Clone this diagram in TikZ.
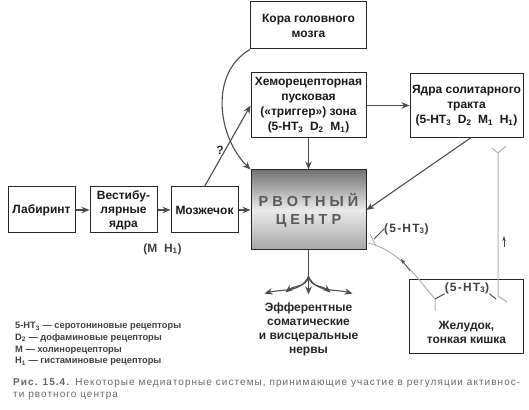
\documentclass[tikz,border=0pt]{standalone}
\usepackage{fontspec}
\setmainfont{Liberation Sans}
\usetikzlibrary{positioning, arrows.meta}

\tikzset{
	vomitpicture/.style = {
		x = 1pt,
		y = 1pt,
		node distance = 12pt,
		arrow/.style = {
			draw = black!70,
			line width = 1.1pt,
			-{Stealth[length = 8pt, width = 6.5pt]},
		},
		thinarrow/.style = {
			draw = black!70,
			line width = 0.7pt,
			-{Stealth[length = 5pt, width = 3.5pt]},
		},
		nerve/.style = {
			draw = black!30,
			line width = 1pt,
		},
		synapse/.style = {
			draw = black!70,
			line width = 1pt,
		}
	},
	block/.style = {
		rectangle,
		draw = black!85,
		fill = white,
		line width = 1pt,
		align = center,
		inner sep = 2pt,
		text = black!90,
		font = \bfseries\fontsize{12}{15}\selectfont
	},
	rowblock/.style = {
		block,
		minimum width = 67pt,
		minimum height = 46pt,
		font = \bfseries\fontsize{12}{14}\selectfont
	},
	vcblock/.style = {
		block,
		minimum width = 115pt,
		minimum height = 80pt,
		top color = black!55,
		bottom color = black!35,
		middle color = black!8,
		text = black!65,
		font = \bfseries\fontsize{14.5}{18}\selectfont
	},
	note/.style = {
		inner sep = 0pt,
		align = center,
		text = black!85,
		font = \bfseries\fontsize{12}{14}\selectfont
	},
	receptor/.style = {
		note,
		text = black!75,
		font = \bfseries\fontsize{12}{13}\selectfont\addfontfeature{LetterSpace = 10}
	},
	legend/.style = {
		inner sep = 0pt,
		align = left,
		text = black!75,
		font = \bfseries\fontsize{9.3}{11.8}\selectfont
	},
	caption/.style = {
		inner sep = 0pt,
		align = left,
		text = black!60,
		font = \fontsize{10}{12}\selectfont\addfontfeature{LetterSpace = 10.6}
	}
}

\begin{document}
\begin{tikzpicture}[vomitpicture]
	\useasboundingbox (0, 0) rectangle (529, 409);

	\node[rowblock] (lab) at (41.5, 199) {Лабиринт};
	\node[rowblock, right = 14pt of lab] (vest) {Вестибу-\\лярные\\ядра};
	\node[rowblock, right = 13pt of vest] (cereb) {Мозжечок};
	\node[vcblock, right = 12pt of cereb] (vc) {Р В О Т Н Ы Й\\Ц Е Н Т Р};

	\node[block, minimum width = 115pt, minimum height = 65pt, above = 31pt of vc] (ctz) {Хеморецепторная\\пусковая\\(«триггер») зона\\(5-HT\textsubscript{3}~ D\textsubscript{2}~ M\textsubscript{1})};
	\node[block, minimum width = 116pt, minimum height = 47pt, above = 23pt of ctz] (cortex) {Кора головного\\мозга};
	\node[block, minimum width = 113pt, minimum height = 64pt, right = 43pt of ctz] (nts) {Ядра солитарного\\тракта\\(5-HT\textsubscript{3}~ D\textsubscript{2}~ M\textsubscript{1}~ H\textsubscript{1})};
	\node[block, minimum width = 114pt, minimum height = 74pt, below = 141pt of nts] (gut) {};
	\node[note, anchor = south] (gutname) at ([yshift = 10pt] gut.south) {Желудок,\\тонкая кишка};

	\node[note, text = black!75] (mh) at (162.5, 160) {(M~ H\textsubscript{1})};

	\coordinate[below = 26pt of vc] (fork);
	\coordinate[below left = 17pt and 44pt of fork] (eff1);
	\coordinate[below left = 16pt and 23pt of fork] (eff2);
	\coordinate[below = 18pt of fork] (eff3);
	\coordinate[below right = 16pt and 22pt of fork] (eff4);
	\coordinate[below right = 17pt and 44pt of fork] (eff5);
	\node[note, below = 8pt of eff3] (efferent) {Эфферентные\\соматические\\и висцеральные\\нервы};

	\begin{scope}[every path/.style = arrow]
		\path (lab) to (vest);
		\path (vest) to (cereb);
		\path (cereb) to (vc);
		\path (cereb.north) to node[pos = 0.45, left = 1pt, note] {?} (ctz.west);
		\path (cortex.south west) to[out = 210, in = 135] (vc.north west);
		\path (ctz) to (vc);
		\path (ctz) to (nts);
		\path ([xshift = 4pt] nts.south) to (vc.east);

		\path (fork) to[out = 245, in = 15] (eff1);
		\path (fork) to[out = 260, in = 40] (eff2);
		\path (fork) to (eff3);
		\path (fork) to[out = 280, in = 140] (eff4);
		\path (fork) to[out = 295, in = 165] (eff5);
	\end{scope}
	\draw[draw = black!70, line width = 1.1pt] (vc.south) -- (fork);

	% nerves from the gut
	\draw[nerve] (435, 98) -- (435, 110) .. controls (420, 127) and (400, 159) .. (368, 166);
	\draw[nerve] (370, 175) -- (376, 163);
	\node[receptor, anchor = west] (ht3top) at (384, 180) {(5-HT\textsubscript{3})};
	\draw[synapse] (374, 170) -- (ht3top.west);
	\node[receptor] (ht3gut) at (467, 121) {(5-HT\textsubscript{3})};
	\draw[synapse] (435, 110) -- (ht3gut.south west);
	\draw[synapse] (ht3gut.south east) -- (496, 110);
	\draw[nerve] (507, 107) -- (498, 113) -- (498, 256);
	\draw[nerve] (492, 261) -- (498, 256) -- (506, 263);
	\draw[thinarrow] (504, 162) -- (504, 173);
	\draw[thinarrow] (410, 138) -- (401, 150);

	\node[legend, anchor = north west] (key) at (15, 87) {5-HT\textsubscript{3} — серотониновые рецепторы\\D\textsubscript{2} — дофаминовые рецепторы\\M — холинорецепторы\\H\textsubscript{1} — гистаминовые рецепторы};
	\node[caption, anchor = north west] (title) at (13, 31) {\textbf{Рис. 15.4.} Некоторые медиаторные системы, принимающие участие в регуляции активнос-\\ти рвотного центра};
\end{tikzpicture}
\end{document}
